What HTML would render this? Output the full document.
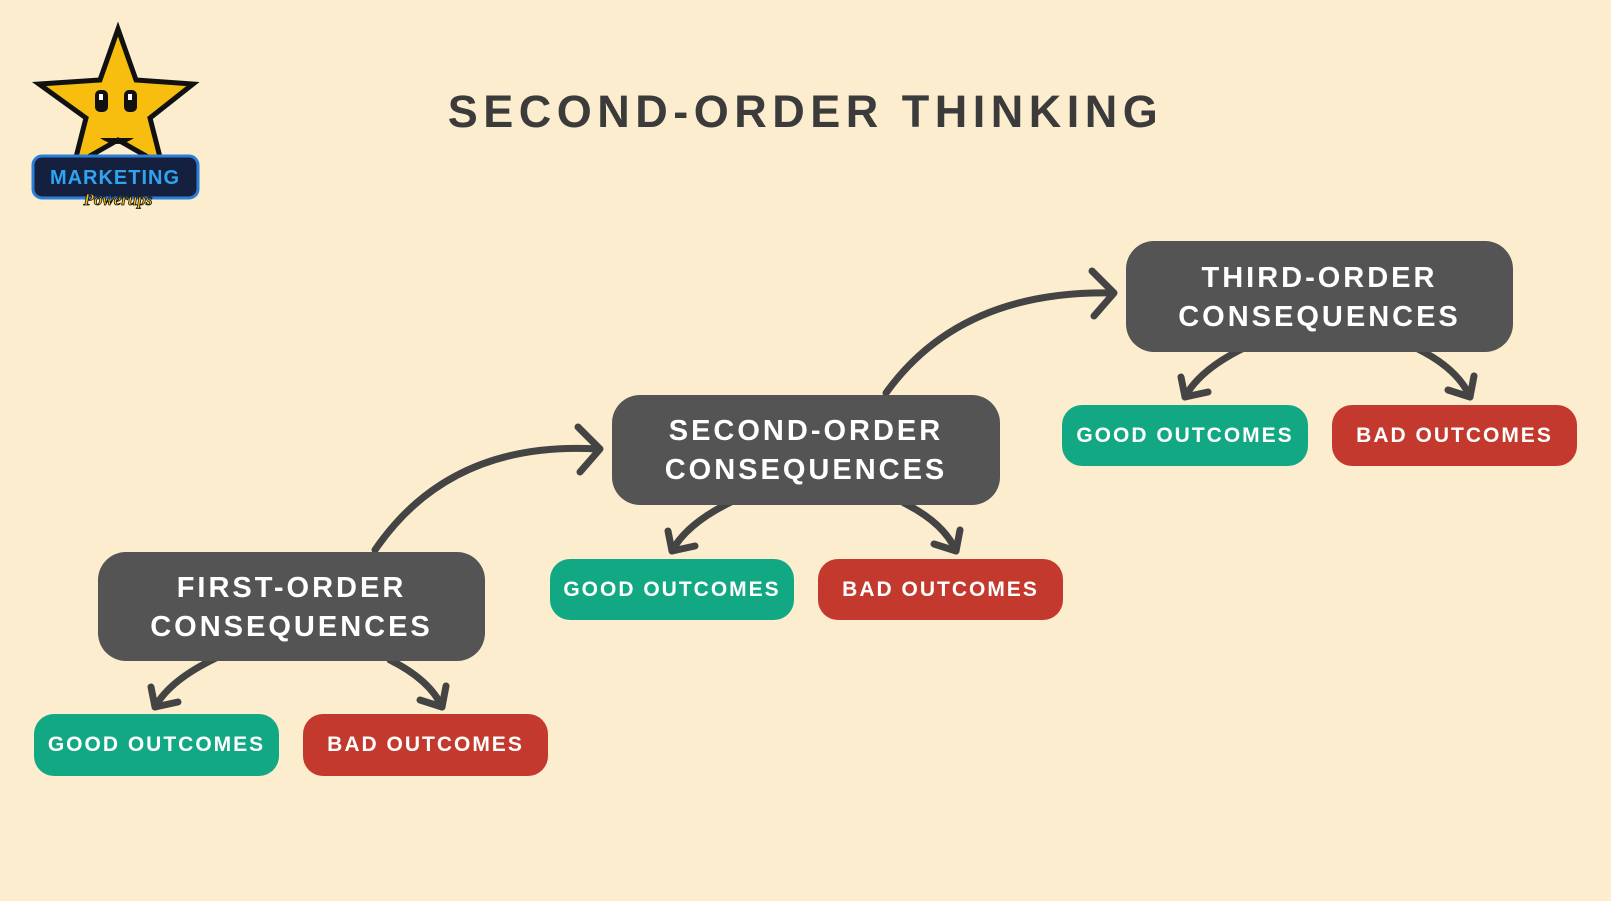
<!DOCTYPE html>
<html><head><meta charset="utf-8"><style>
html,body{margin:0;padding:0;background:#fdedcf;}
body{width:1611px;height:901px;position:relative;overflow:hidden;font-family:"Liberation Sans",sans-serif;}
.t{position:absolute;left:352px;top:86px;width:907px;text-align:center;font-size:45px;font-weight:bold;color:#3b3b3b;letter-spacing:5.5px;white-space:nowrap;}
.node{position:absolute;background:#545454;border-radius:28px;color:#fff;font-weight:bold;font-size:29px;letter-spacing:3px;text-align:center;line-height:39px;display:flex;align-items:center;justify-content:center;box-sizing:border-box;padding-top:2px;white-space:nowrap;}
.pill{position:absolute;border-radius:20px;color:#fff;font-weight:bold;font-size:21px;letter-spacing:2px;display:flex;align-items:center;justify-content:center;white-space:nowrap;}
.g{background:#13a884;}.r{background:#c4392d;}
svg{position:absolute;left:0;top:0;}
</style></head><body>
<svg width="1611" height="901">
<g fill="none" stroke="#444" stroke-width="7" stroke-linecap="round" stroke-linejoin="round">
<path d="M375 550 Q450 440 598 449"/><path d="M578 427 L600 449 L580 472"/>
<path d="M886 393 Q960 290 1112 293"/><path d="M1092 271 L1114 293 L1094 316"/>
<path d="M216 658 Q170 680 155 707"/><path d="M151 687 L155 707 L178 702"/>
<path d="M390 660 Q430 680 442 707"/><path d="M446 686 L442 707 L420 700"/>
<path d="M733 501 Q687 523 672 551"/><path d="M668 531 L672 551 L695 546"/>
<path d="M904 503 Q944 523 956 551"/><path d="M960 530 L956 551 L934 544"/>
<path d="M1246 347 Q1200 369 1185 397"/><path d="M1181 377 L1185 397 L1208 392"/>
<path d="M1418 349 Q1458 369 1470 397"/><path d="M1474 376 L1470 397 L1448 390"/>
</g>
<polygon points="118,29 136,80 193,84 150,118 162,165 118,140 74,165 86,118 39,84 100,80" fill="#f7bd0f" stroke="#111" stroke-width="5" stroke-linejoin="miter"/>
<rect x="95" y="90" width="13" height="22" rx="5" fill="#111"/><rect x="124" y="90" width="13" height="22" rx="5" fill="#111"/>
<rect x="99" y="94" width="4" height="6" fill="#fff"/><rect x="128" y="94" width="4" height="6" fill="#fff"/>
<path d="M100 138 Q117 150 134 138" fill="#111"/>
<rect x="33" y="156" width="165" height="42" rx="9" fill="#14203d" stroke="#2a7fd8" stroke-width="3"/>
<text x="115" y="184" text-anchor="middle" font-family="Liberation Sans" font-weight="bold" font-size="20" fill="#2fa4f0" letter-spacing="1">MARKETING</text>
<text x="118" y="205" text-anchor="middle" font-family="Liberation Serif" font-style="italic" font-weight="bold" font-size="17" fill="#f7c21a" stroke="#111" stroke-width="0.8">Powerups</text>
</svg>
<div class="t">SECOND-ORDER THINKING</div>
<div class="node" style="left:98px;top:552px;width:387px;height:109px;">FIRST-ORDER<br>CONSEQUENCES</div>
<div class="node" style="left:612px;top:395px;width:388px;height:110px;">SECOND-ORDER<br>CONSEQUENCES</div>
<div class="node" style="left:1126px;top:241px;width:387px;height:111px;">THIRD-ORDER<br>CONSEQUENCES</div>
<div class="pill g" style="left:34px;top:714px;width:245px;height:62px;">GOOD OUTCOMES</div>
<div class="pill r" style="left:303px;top:714px;width:245px;height:62px;">BAD OUTCOMES</div>
<div class="pill g" style="left:550px;top:559px;width:244px;height:61px;">GOOD OUTCOMES</div>
<div class="pill r" style="left:818px;top:559px;width:245px;height:61px;">BAD OUTCOMES</div>
<div class="pill g" style="left:1062px;top:405px;width:246px;height:61px;">GOOD OUTCOMES</div>
<div class="pill r" style="left:1332px;top:405px;width:245px;height:61px;">BAD OUTCOMES</div>
</body></html>
